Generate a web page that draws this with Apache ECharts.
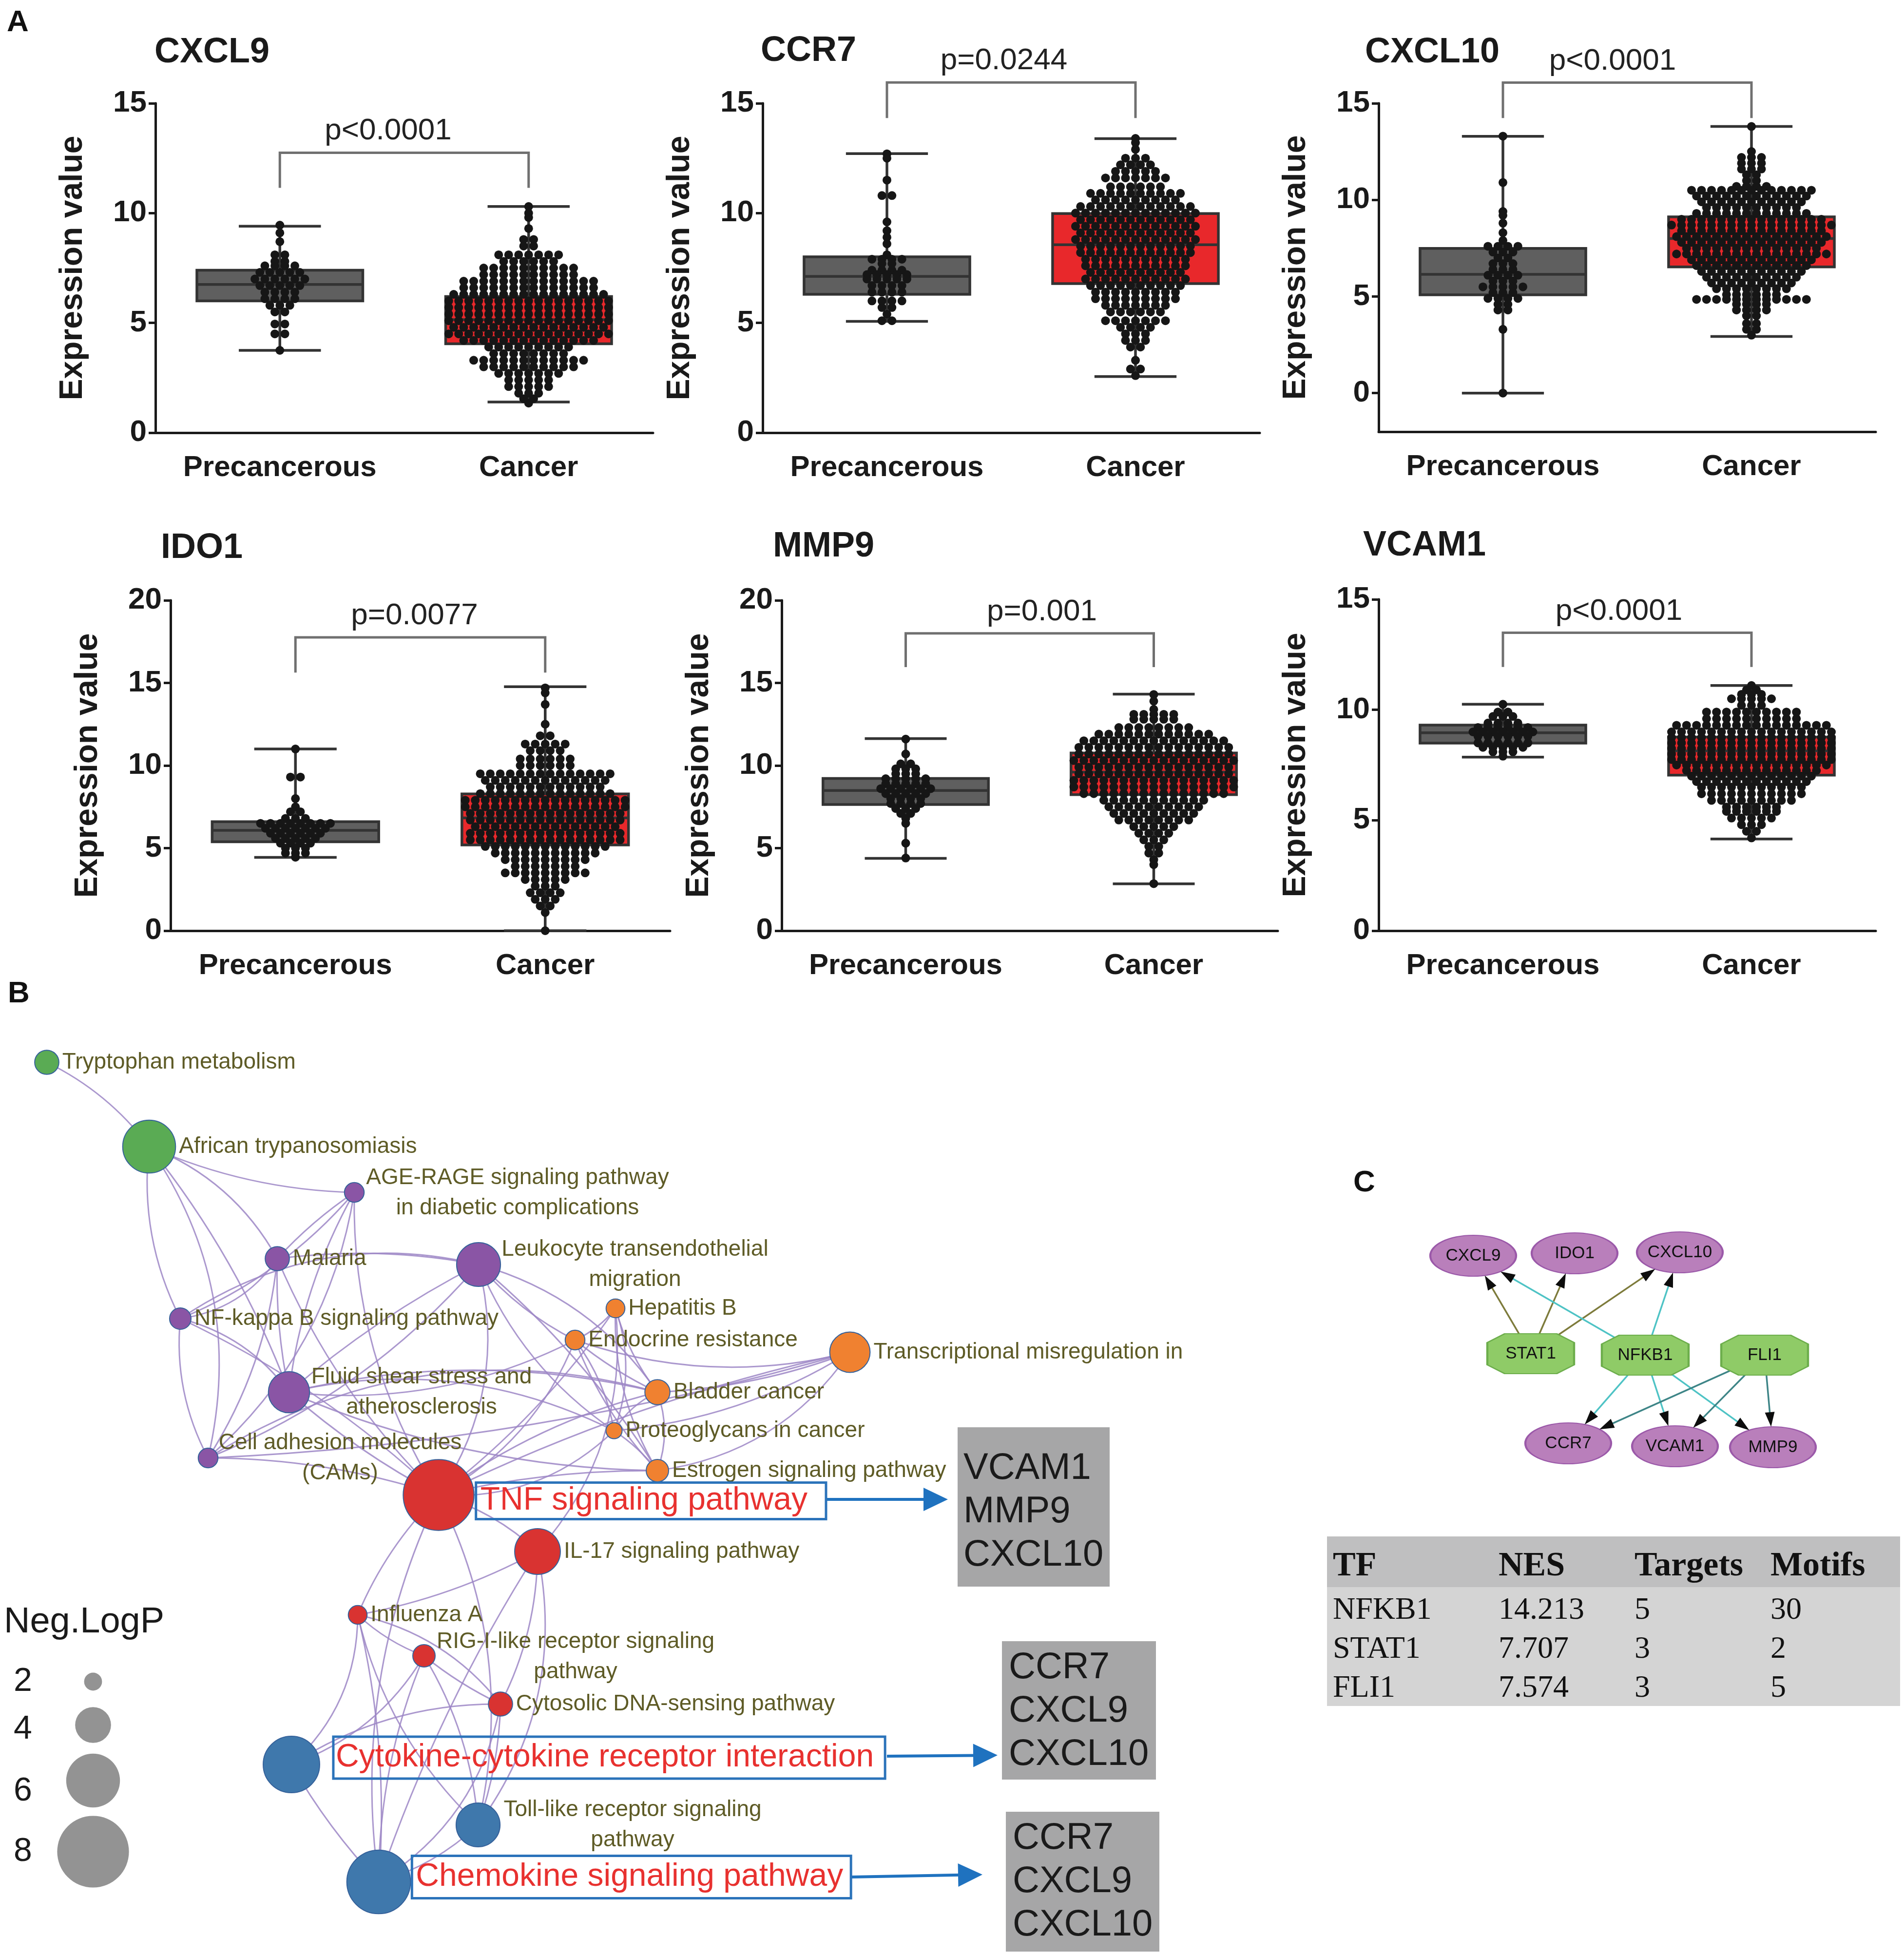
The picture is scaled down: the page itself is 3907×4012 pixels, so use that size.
<!DOCTYPE html>
<html>
<head>
<meta charset="utf-8">
<title>Expression, enrichment network and TF regulation</title>
<script src="https://cdn.jsdelivr.net/npm/echarts@6.0.0/dist/echarts.min.js"></script>
<style>
html,body{margin:0;padding:0;background:#ffffff;}
#chart{width:3907px;height:4012px;}
</style>
</head>
<body>
<div id="chart"></div>
<script>
// ================= DATA =================
const groups = ['Precancerous', 'Cancer'];
const genes = ['CXCL9', 'CCR7', 'CXCL10', 'IDO1', 'MMP9', 'VCAM1'];
const pLabels = ['p<0.0001', 'p=0.0244', 'p<0.0001', 'p=0.0077', 'p=0.001', 'p<0.0001'];
const yMin = [0, 0, -2, 0, 0, 0];
const yMax = [15, 15, 15, 20, 20, 15];
const yTickValues = [[0,5,10,15],[0,5,10,15],[0,5,10,15],[0,5,10,15,20],[0,5,10,15,20],[0,5,10,15]];
const bracketTop = [12.75, 15.95, 16.07, 17.76, 18.0, 13.49];
const bracketLeg = [11.15, 14.33, 14.24, 15.63, 15.96, 11.94];

// box statistics [min, Q1, median, Q3, max] for Precancerous, Cancer
const boxCXCL9  = [[3.75, 6.0, 6.75, 7.4, 9.4],  [1.4, 4.05, 5.15, 6.2, 10.3]];
const boxCCR7   = [[5.07, 6.3, 7.12, 8.01, 12.71],[2.56, 6.79, 8.56, 9.98, 13.39]];
const boxCXCL10 = [[0, 5.09, 6.15, 7.49, 13.29],  [2.93, 6.53, 8.0, 9.12, 13.8]];
const boxIDO1   = [[4.44, 5.38, 6.08, 6.6, 11.0], [0, 5.19, 6.83, 8.28, 14.77]];
const boxMMP9   = [[4.38, 7.64, 8.49, 9.22, 11.63],[2.84, 8.24, 9.6, 10.76, 14.32]];
const boxVCAM1  = [[7.86, 8.49, 8.96, 9.31, 10.25],[4.15, 7.04, 8.14, 8.77, 11.1]];

// individual samples, read as [value, number of dots at that value]
const preCXCL9 = [[9.45,1],[9.1,1],[8.7,1],[8.1,2],[7.8,2],[7.6,4],[7.3,5],[7.0,6],[6.7,5],[6.4,4],[6.1,4],[5.8,3],[5.5,2],[4.95,2],[4.5,2],[3.75,1]];
const canCXCL9 = [[10.3,1],[10.0,1],[9.8,1],[9.3,1],[8.8,2],[8.5,2],[8.1,7],[7.8,6],[7.5,10],[7.2,10],[6.9,14],[6.6,14],[6.3,16],[6.0,17],[5.7,17],[5.4,17],[5.1,17],[4.8,16],[4.5,17],[4.2,14],[3.9,9],[3.6,8],[3.3,12],[3.0,10],[2.7,7],[2.4,5],[2.1,5],[1.8,3],[1.55,2],[1.35,1]];
const preCCR7 = [[12.7,1],[12.5,1],[11.5,1],[10.8,2],[9.6,1],[9.2,1],[8.9,1],[8.6,1],[8.1,1],[7.9,4],[7.7,2],[7.4,4],[7.2,5],[7.0,5],[6.7,4],[6.4,4],[6.0,4],[5.7,2],[5.4,1],[5.1,2]];
const canCCR7 = [[13.4,1],[13.2,1],[12.9,1],[12.5,3],[12.2,4],[11.9,5],[11.6,7],[11.2,6],[10.9,10],[10.6,9],[10.3,12],[10.0,13],[9.7,12],[9.4,13],[9.1,12],[8.8,13],[8.5,12],[8.2,12],[7.9,11],[7.6,11],[7.3,10],[7.0,11],[6.7,10],[6.4,9],[6.1,9],[5.8,7],[5.5,6],[5.1,7],[4.8,4],[4.5,3],[4.2,3],[3.9,2],[3.3,1],[2.9,2],[2.6,1]];
const preCXCL10 = [[13.3,1],[10.9,1],[9.4,1],[9.2,1],[8.8,1],[8.3,1],[7.9,1],[7.6,4],[7.3,3],[7.0,2],[6.7,3],[6.4,3],[6.1,4],[5.8,3],[5.5,5],[5.2,3],[4.9,4],[4.6,2],[4.3,2],[3.3,1],[0,1]];
const canCXCL10 = [[13.8,1],[12.5,1],[12.2,3],[11.9,3],[11.6,3],[11.3,2],[11.0,2],[10.7,4],[10.5,13],[10.2,12],[9.9,11],[9.6,10],[9.3,12],[9.0,15],[8.7,17],[8.4,15],[8.1,16],[7.8,15],[7.5,14],[7.2,16],[6.9,13],[6.6,12],[6.3,11],[6.0,10],[5.7,9],[5.4,8],[5.1,6],[4.85,12],[4.6,4],[4.3,4],[4.0,2],[3.6,2],[3.3,2],[3.0,1]];
const preIDO1 = [[11.0,1],[9.3,2],[8.0,1],[7.5,1],[7.2,2],[6.8,3],[6.5,8],[6.2,7],[5.9,6],[5.6,5],[5.3,4],[5.0,3],[4.7,3],[4.45,1]];
const canIDO1 = [[14.7,1],[14.4,1],[13.7,1],[12.5,1],[11.8,2],[11.3,5],[10.9,4],[10.4,6],[10.0,6],[9.5,14],[9.1,13],[8.7,12],[8.3,14],[7.9,17],[7.5,17],[7.1,16],[6.7,16],[6.3,15],[5.9,16],[5.5,16],[5.1,13],[4.7,11],[4.3,9],[3.9,7],[3.5,9],[3.1,5],[2.7,3],[2.3,4],[1.9,3],[1.5,2],[1.1,1],[0,1]];
const preMMP9 = [[11.6,1],[10.7,1],[10.1,2],[9.8,3],[9.5,3],[9.2,5],[8.9,5],[8.6,6],[8.3,5],[8.0,4],[7.7,4],[7.4,3],[7.1,2],[6.8,1],[6.5,1],[5.3,1],[4.4,1]];
const canMMP9 = [[14.3,1],[13.9,1],[13.4,1],[13.1,5],[12.8,5],[12.3,8],[11.9,12],[11.5,15],[11.1,16],[10.7,16],[10.3,17],[9.9,16],[9.5,16],[9.1,17],[8.7,17],[8.3,15],[7.9,11],[7.5,10],[7.1,9],[6.7,8],[6.3,5],[5.9,4],[5.5,3],[5.1,2],[4.7,2],[4.3,1],[4.0,1],[2.85,1]];
const preVCAM1 = [[10.25,1],[9.9,2],[9.7,3],[9.4,4],[9.2,6],[9.0,7],[8.8,6],[8.5,6],[8.3,5],[8.1,3],[7.9,1]];
const canVCAM1 = [[11.1,1],[10.9,2],[10.7,3],[10.5,5],[10.2,3],[9.9,10],[9.6,10],[9.3,16],[9.0,17],[8.75,17],[8.5,17],[8.25,17],[8.0,17],[7.75,17],[7.5,16],[7.25,14],[7.0,13],[6.75,12],[6.5,11],[6.2,11],[5.9,9],[5.6,6],[5.4,6],[5.1,5],[4.8,3],[4.5,2],[4.2,1]];

// ---- Panel B: pathway enrichment network ----
const pathLabels = ['Tryptophan metabolism','African trypanosomiasis','AGE-RAGE signaling pathway\nin diabetic complications','Malaria','Leukocyte transendothelial\nmigration','NF-kappa B signaling pathway','Fluid shear stress and\natherosclerosis','Cell adhesion molecules\n(CAMs)','Hepatitis B','Endocrine resistance','Transcriptional misregulation in','Bladder cancer','Proteoglycans in cancer','Estrogen signaling pathway','TNF signaling pathway','IL-17 signaling pathway','Influenza A','RIG-I-like receptor signaling\npathway','Cytosolic DNA-sensing pathway','Cytokine-cytokine receptor interaction','Toll-like receptor signaling\npathway','Chemokine signaling pathway'];
const layoutX = [96,306,727,569,982,370,593,427,1263,1180,1744,1349,1260,1349,900,1103,734,870,1027,598,981,777];
const layoutY = [2180,2353,2447,2583,2595,2706,2857,2992,2685,2750,2775,2857,2936,3018,3068,3184,3314,3398,3497,3621,3745,3862];
const negLogP = [2.7,5.9,2.2,2.7,4.9,2.4,4.6,2.2,2.1,2.2,4.5,2.8,1.8,2.5,7.9,5.1,2.1,2.5,2.7,6.3,4.9,7.1];
const pathCluster = [0,0,1,1,1,1,1,1,2,2,2,2,2,2,3,3,3,3,3,4,4,4];
const pathEdges = [[0,1],[1,2],[1,3],[1,5],[1,6],[1,7],[2,3],[2,5],[2,6],[2,7],[2,14],[3,4],[3,5],[3,6],[3,7],[3,14],[5,6],[5,7],[5,14],[5,4],[4,6],[4,7],[4,9],[4,11],[4,12],[4,13],[4,14],[6,14],[6,11],[6,13],[6,12],[6,9],[7,14],[7,11],[7,10],[8,9],[8,11],[8,12],[8,13],[8,14],[8,15],[9,11],[9,12],[9,13],[9,14],[9,10],[10,11],[10,13],[10,14],[10,12],[11,14],[11,13],[11,12],[12,13],[12,14],[13,14],[14,15],[14,16],[14,20],[14,21],[15,16],[15,20],[15,21],[15,18],[16,17],[16,18],[16,20],[16,21],[16,19],[17,18],[17,20],[17,21],[17,19],[18,19],[18,20],[18,21],[19,21],[20,21]];
const legendNegLogP = [2, 4, 6, 8];
const genesTNF = ['VCAM1', 'MMP9', 'CXCL10'];
const genesCytokine = ['CCR7', 'CXCL9', 'CXCL10'];
const genesChemokine = ['CCR7', 'CXCL9', 'CXCL10'];

// ---- Panel C: TF regulatory network ----
const tfNames = ['STAT1', 'NFKB1', 'FLI1'];
const tfX = [3141, 3376, 3621];
const tfY = [2778, 2781, 2781];
const targetNames = ['CXCL9', 'IDO1', 'CXCL10', 'CCR7', 'VCAM1', 'MMP9'];
const targetX = [3023, 3231, 3447, 3218, 3437, 3638];
const targetY = [2577, 2572, 2570, 2962, 2968, 2970];
const regulations = [['STAT1','CXCL9'],['STAT1','IDO1'],['STAT1','CXCL10'],['NFKB1','CXCL9'],['NFKB1','CXCL10'],['NFKB1','CCR7'],['NFKB1','VCAM1'],['NFKB1','MMP9'],['FLI1','CCR7'],['FLI1','VCAM1'],['FLI1','MMP9']];
const tableHeader = ['TF', 'NES', 'Targets', 'Motifs'];
const tableTF = ['NFKB1', 'STAT1', 'FLI1'];
const tableNES = ['14.213', '7.707', '7.574'];
const tableTargets = [5, 3, 3];
const tableMotifs = [30, 2, 5];

// ================= STYLE / LAYOUT =================
const W = 3907, H = 4012;
const FONT = '"Liberation Sans", Arial, Helvetica, sans-serif';
const SERIF = '"Liberation Serif", "Times New Roman", Times, serif';
const INK = '#1a1a1a';
const gridBoxes = [
  {left: 319,  top: 212,  width: 1021, height: 676},
  {left: 1565, top: 212,  width: 1020, height: 676},
  {left: 2829, top: 212,  width: 1020, height: 674},
  {left: 350,  top: 1232, width: 1025, height: 678},
  {left: 1604, top: 1232, width: 1018, height: 678},
  {left: 2829, top: 1230, width: 1020, height: 680}
];
const titlePos = [[317,108],[1561,105],[2801,108],[330,1125],[1586,1122],[2797,1120]];
const pTextShift = [-33, -15, -30, -12, 25, -17];
const boxesAll = [boxCXCL9, boxCCR7, boxCXCL10, boxIDO1, boxMMP9, boxVCAM1];
const preAll = [preCXCL9, preCCR7, preCXCL10, preIDO1, preMMP9, preVCAM1];
const canAll = [canCXCL9, canCCR7, canCXCL10, canIDO1, canMMP9, canVCAM1];
const BOX_W = 0.667, CAP_W = 0.33, DOT_PX = 20.5;
const boxFill = ['#5f5f5f', '#e8282b'];

function swarm(rows, k, step) {
  const pts = [];
  rows.forEach(([v, n]) => {
    for (let j = 0; j < n; j++) pts.push([k + (j - (n - 1) / 2) * step, v]);
  });
  return pts;
}

function renderBox(params, api) {
  const k = api.value(0);
  const mn = api.value(1), q1 = api.value(2), md = api.value(3), q3 = api.value(4), mx = api.value(5);
  const half = api.size([BOX_W, 0])[0] / 2;
  const cap = api.size([CAP_W, 0])[0] / 2;
  const pMin = api.coord([k, mn]), pQ1 = api.coord([k, q1]), pMd = api.coord([k, md]);
  const pQ3 = api.coord([k, q3]), pMax = api.coord([k, mx]);
  const x = pMin[0];
  const st = {stroke: '#333333', lineWidth: 5.5};
  return {type: 'group', children: [
    {type: 'line', shape: {x1: x, y1: pMax[1], x2: x, y2: pQ3[1]}, style: st},
    {type: 'line', shape: {x1: x, y1: pQ1[1], x2: x, y2: pMin[1]}, style: st},
    {type: 'line', shape: {x1: x - cap, y1: pMax[1], x2: x + cap, y2: pMax[1]}, style: st},
    {type: 'line', shape: {x1: x - cap, y1: pMin[1], x2: x + cap, y2: pMin[1]}, style: st},
    {type: 'rect', shape: {x: x - half, y: pQ3[1], width: 2 * half, height: pQ1[1] - pQ3[1]},
      style: {fill: boxFill[k], stroke: '#333333', lineWidth: 5.5}},
    {type: 'line', shape: {x1: x - half, y1: pMd[1], x2: x + half, y2: pMd[1]}, style: st}
  ]};
}

function makeBracketRenderer(label, shift) {
  return function (params, api) {
    const top = api.value(1), leg = api.value(2);
    const a = api.coord([0, top]), b = api.coord([1, top]), l = api.coord([0, leg]);
    return {type: 'group', children: [
      {type: 'polyline', shape: {points: [[a[0], l[1]], [a[0], a[1]], [b[0], a[1]], [b[0], l[1]]]},
        style: {stroke: '#707070', lineWidth: 5, fill: null}},
      {type: 'text', style: {text: label, x: (a[0] + b[0]) / 2 + shift, y: a[1] - 44,
        textAlign: 'center', textVerticalAlign: 'middle', align: 'center', verticalAlign: 'middle',
        fontSize: 62, fontFamily: FONT, fill: '#222222'}}
    ]};
  };
}

const grids = [], xAxes = [], yAxes = [], series = [], graphics = [];

gridBoxes.forEach((g, i) => {
  grids.push(Object.assign({outerBoundsMode: 'none', containLabel: false}, g));
  xAxes.push({
    type: 'category', gridIndex: i, data: groups, boundaryGap: true,
    axisLine: {onZero: false, lineStyle: {color: INK, width: 5}},
    axisTick: {alignWithLabel: true, interval: 0, length: 22, lineStyle: {color: INK, width: 5}},
    axisLabel: {interval: 0, color: INK, fontSize: 60, fontWeight: 'bold', fontFamily: FONT, margin: 42, hideOverlap: false},
    splitLine: {show: false}
  });
  xAxes.push({type: 'value', gridIndex: i, min: -0.5, max: 1.5, show: false});
  const yAx = {
    type: 'value', gridIndex: i, min: yMin[i], max: yMax[i],
    axisLine: {show: true, onZero: false, lineStyle: {color: INK, width: 5}},
    axisTick: {show: true, length: 14, lineStyle: {color: INK, width: 5}, customValues: yTickValues[i]},
    axisLabel: {color: INK, fontSize: 62, fontWeight: 'bold', fontFamily: FONT, margin: 18, customValues: yTickValues[i]},
    splitLine: {show: false},
    name: 'Expression value', nameLocation: 'middle', nameGap: 136,
    nameTextStyle: {color: INK, fontSize: 66, fontWeight: 'bold', fontFamily: FONT}
  };
  if (yMin[i] % 5 === 0) yAx.interval = 5;
  yAxes.push(yAx);

  const step = DOT_PX / (g.width / 2);
  series.push({
    type: 'custom', xAxisIndex: 2 * i + 1, yAxisIndex: i, z: 2, clip: false, silent: true,
    encode: {x: 0, y: 3},
    data: boxesAll[i].map((b, k) => [k].concat(b)),
    renderItem: renderBox
  });
  series.push({
    type: 'scatter', xAxisIndex: 2 * i + 1, yAxisIndex: i, z: 3, silent: true,
    symbol: 'circle', symbolSize: 18,
    itemStyle: {color: '#161616', opacity: 1},
    data: swarm(preAll[i], 0, step).concat(swarm(canAll[i], 1, step))
  });
  series.push({
    type: 'custom', xAxisIndex: 2 * i + 1, yAxisIndex: i, z: 4, clip: false, silent: true,
    encode: {x: 0, y: 1},
    data: [[0.5, bracketTop[i], bracketLeg[i]]],
    renderItem: makeBracketRenderer(pLabels[i], pTextShift[i])
  });
  graphics.push({type: 'text', x: titlePos[i][0], y: titlePos[i][1],
    style: {text: genes[i], fill: INK, fontSize: 72, fontWeight: 'bold', fontFamily: FONT,
      textAlign: 'left', textVerticalAlign: 'middle', align: 'left', verticalAlign: 'middle'}});
});

// ---- network coordinate system (pixel-unit hidden axes) ----
const NG = grids.length;
grids.push({left: 0, top: 0, width: W, height: H, outerBoundsMode: 'none', containLabel: false});
xAxes.push({type: 'value', gridIndex: NG, min: 0, max: W, show: false});
yAxes.push({type: 'value', gridIndex: NG, min: 0, max: H, inverse: true, show: false});
const NX = xAxes.length - 1, NY = yAxes.length - 1;

const clusterColors = ['#5aab54', '#8a55a5', '#f08130', '#d93331', '#3f78ac'];
const nodeDiameter = v => 18.4 * v;
const edgeCurves = [0.12, -0.1, 0.18, -0.15, 0.08, 0.22, -0.06];

series.push({
  type: 'lines', coordinateSystem: 'cartesian2d', xAxisIndex: NX, yAxisIndex: NY, z: 1, silent: true,
  lineStyle: {color: '#9c86c6', width: 3, opacity: 0.85},
  data: pathEdges.map(([a, b], k) => ({
    coords: [[layoutX[a], layoutY[a]], [layoutX[b], layoutY[b]]],
    lineStyle: {curveness: edgeCurves[k % edgeCurves.length]}
  }))
});

const olive = '#5e5b26';
const centeredOffsets = {2: [335, 1], 4: [321, 0], 6: [272, 0], 7: [271, 0], 17: [311, 2], 20: [317, 0]};
const boxedLabels = {
  14: {distance: 3, offset: [0, 12], padding: [3, 38, 3, 9], lineHeight: 69},
  19: {distance: 27, offset: [0, -14], padding: [5, 23, 5, 5], lineHeight: 76},
  21: {distance: 2, offset: [0, -10], padding: [5, 16, 5, 8], lineHeight: 77}
};
function nodeLabel(k) {
  if (boxedLabels[k]) {
    return Object.assign({show: true, position: 'right', color: '#e8312f', fontSize: 66, fontFamily: FONT,
      borderColor: '#2b73ba', borderWidth: 5, align: 'left', verticalAlign: 'middle'}, boxedLabels[k]);
  }
  if (centeredOffsets[k]) {
    return {show: true, position: 'inside', offset: centeredOffsets[k], align: 'center', verticalAlign: 'middle',
      color: olive, fontSize: 46, lineHeight: 62, fontFamily: FONT};
  }
  return {show: true, position: 'right', distance: 6, color: olive, fontSize: 46, fontFamily: FONT};
}

series.push({
  type: 'scatter', xAxisIndex: NX, yAxisIndex: NY, z: 3, silent: true,
  itemStyle: {borderColor: '#35619a', borderWidth: 2, opacity: 1},
  label: {show: true, formatter: '{b}'},
  data: pathLabels.map((name, k) => ({
    name: name, value: [layoutX[k], layoutY[k]], symbolSize: nodeDiameter(negLogP[k]),
    itemStyle: {color: clusterColors[pathCluster[k]]},
    label: nodeLabel(k)
  }))
});

// Neg.LogP size legend
const legendX = 191, legendY = [3451, 3540, 3654, 3800];
const legendLabelShift = [0, 9, 22, 0];
series.push({
  type: 'scatter', xAxisIndex: NX, yAxisIndex: NY, z: 3, silent: true,
  itemStyle: {color: '#939393', opacity: 1},
  data: legendNegLogP.map((v, k) => ({name: String(v), value: [legendX, legendY[k]], symbolSize: nodeDiameter(v),
    label: {show: true, position: 'inside', offset: [-144, legendLabelShift[k]], formatter: '{b}', color: INK, fontSize: 68, fontFamily: FONT}}))
});
graphics.push({type: 'text', x: 8, y: 3330,
  style: {text: 'Neg.LogP', fill: INK, fontSize: 74, fontFamily: FONT,
    textAlign: 'left', textVerticalAlign: 'middle', align: 'left', verticalAlign: 'middle'}});

// gene boxes + blue arrows
const geneBoxes = [
  {genes: genesTNF, rect: [1965, 2929, 312, 327], tx: 1977, ty: 3103, arrow: [1696, 3077, 1945, 3077]},
  {genes: genesCytokine, rect: [2056, 3368, 316, 284], tx: 2070, ty: 3512, arrow: [1820, 3604, 2047, 3602]},
  {genes: genesChemokine, rect: [2064, 3718, 315, 287], tx: 2078, ty: 3862, arrow: [1745, 3852, 2016, 3847]}
];
geneBoxes.forEach(gb => {
  graphics.push({type: 'rect', shape: {x: gb.rect[0], y: gb.rect[1], width: gb.rect[2], height: gb.rect[3]},
    style: {fill: '#a6a6a7'}});
  graphics.push({type: 'text', x: gb.tx, y: gb.ty,
    style: {text: gb.genes.join('\n'), fill: INK, fontSize: 76, lineHeight: 89, fontFamily: FONT,
      textAlign: 'left', textVerticalAlign: 'middle', align: 'left', verticalAlign: 'middle'}});
  const [x1, y1, x2, y2] = gb.arrow;
  const ang = Math.atan2(y2 - y1, x2 - x1), L = 50, hw = 24;
  const bx = x2 - L * Math.cos(ang), by = y2 - L * Math.sin(ang);
  graphics.push({type: 'line', shape: {x1: x1, y1: y1, x2: bx + 4 * Math.cos(ang), y2: by + 4 * Math.sin(ang)},
    style: {stroke: '#1f72bf', lineWidth: 6}});
  graphics.push({type: 'polygon', shape: {points: [[x2, y2],
    [bx - hw * Math.sin(ang), by + hw * Math.cos(ang)],
    [bx + hw * Math.sin(ang), by - hw * Math.cos(ang)]]}, style: {fill: '#1f72bf'}});
});

// ---- Panel C network ----
const ELLIPSE = 'path://M50,0C77.6,0,100,22.4,100,50C100,77.6,77.6,100,50,100C22.4,100,0,77.6,0,50C0,22.4,22.4,0,50,0Z';
const OCTAGON = 'path://M20,0L80,0L100,22L100,78L80,100L20,100L0,78L0,22Z';
const TRX = 88, TRY = 42, FRX = 89, FRY = 41;
const tfColor = {STAT1: '#7d7b3b', NFKB1: '#4ec3c5', FLI1: '#3e8587'};
const edgeLines = [], arrowHeads = [];
regulations.forEach(([tf, tg]) => {
  const a = tfNames.indexOf(tf), b = targetNames.indexOf(tg);
  const x0 = tfX[a], y0 = tfY[a], x1 = targetX[b], y1 = targetY[b];
  const dx = x1 - x0, dy = y1 - y0, len = Math.hypot(dx, dy), ux = dx / len, uy = dy / len;
  const tS = 1 / Math.hypot(dx / FRX, dy / FRY), tE = 1 / Math.hypot(dx / TRX, dy / TRY);
  const sx = x0 + tS * dx, sy = y0 + tS * dy;
  const ex = x1 - tE * dx, ey = y1 - tE * dy;
  edgeLines.push({coords: [[sx, sy], [ex - ux * 24, ey - uy * 24]], lineStyle: {color: tfColor[tf]}});
  arrowHeads.push({value: [ex - ux * 15, ey - uy * 15], symbolRotate: Math.atan2(-ux, -uy) * 180 / Math.PI});
});
series.push({
  type: 'lines', coordinateSystem: 'cartesian2d', xAxisIndex: NX, yAxisIndex: NY, z: 1, silent: true,
  lineStyle: {width: 3.5, opacity: 1, curveness: 0}, data: edgeLines
});
series.push({
  type: 'scatter', xAxisIndex: NX, yAxisIndex: NY, z: 4, silent: true,
  symbol: 'triangle', symbolSize: [20, 30], itemStyle: {color: '#0d0d0d', opacity: 1}, data: arrowHeads
});
series.push({
  type: 'scatter', xAxisIndex: NX, yAxisIndex: NY, z: 3, silent: true,
  symbol: ELLIPSE, symbolSize: [2 * TRX, 2 * TRY],
  itemStyle: {color: '#b97fbb', borderColor: '#9b59a9', borderWidth: 3, opacity: 1},
  label: {show: true, position: 'inside', formatter: '{b}', color: '#111111', fontSize: 35, fontFamily: FONT},
  data: targetNames.map((n, k) => ({name: n, value: [targetX[k], targetY[k]]}))
});
series.push({
  type: 'scatter', xAxisIndex: NX, yAxisIndex: NY, z: 3, silent: true,
  symbol: OCTAGON, symbolSize: [2 * FRX, 2 * FRY],
  itemStyle: {color: '#8fcb67', borderColor: '#6dae4c', borderWidth: 3, opacity: 1},
  label: {show: true, position: 'inside', formatter: '{b}', color: '#111111', fontSize: 35, fontFamily: FONT},
  data: tfNames.map((n, k) => ({name: n, value: [tfX[k], tfY[k]]}))
});

// ---- table ----
const tableLeft = 2723, tableWidth = 1176, headTop = 3153, headH = 104, rowTop = 3257, rowH = 81;
const colX = [2735, 3075, 3354, 3633];
graphics.push({type: 'rect', shape: {x: tableLeft, y: headTop, width: tableWidth, height: headH}, style: {fill: '#bfbfc0'}});
graphics.push({type: 'rect', shape: {x: tableLeft, y: rowTop, width: tableWidth, height: rowH * 3 + 1}, style: {fill: '#d4d4d4'}});
tableHeader.forEach((h, c) => graphics.push({type: 'text', x: colX[c], y: headTop + 62,
  style: {text: h, fill: '#111111', fontSize: 70, fontWeight: 'bold', fontFamily: SERIF,
    textAlign: 'left', textVerticalAlign: 'middle', align: 'left', verticalAlign: 'middle'}}));
tableTF.forEach((tf, r) => {
  const cells = [tf, tableNES[r], String(tableTargets[r]), String(tableMotifs[r])];
  cells.forEach((v, c) => graphics.push({type: 'text', x: colX[c], y: rowTop + 48 + r * 80,
    style: {text: v, fill: '#111111', fontSize: 64, fontFamily: SERIF,
      textAlign: 'left', textVerticalAlign: 'middle', align: 'left', verticalAlign: 'middle'}}));
});

// ---- panel letters ----
[['A', 14, 47], ['B', 16, 2040], ['C', 2777, 2428]].forEach(([t, x, y]) => graphics.push({type: 'text', x: x, y: y,
  style: {text: t, fill: '#111111', fontSize: 62, fontWeight: 'bold', fontFamily: FONT,
    textAlign: 'left', textVerticalAlign: 'middle', align: 'left', verticalAlign: 'middle'}}));

const chart = echarts.init(document.getElementById('chart'), null, {renderer: 'canvas', width: W, height: H});
chart.setOption({
  backgroundColor: '#ffffff',
  animation: false,
  grid: grids,
  xAxis: xAxes,
  yAxis: yAxes,
  series: series,
  graphic: {elements: graphics}
});
</script>
</body>
</html>
